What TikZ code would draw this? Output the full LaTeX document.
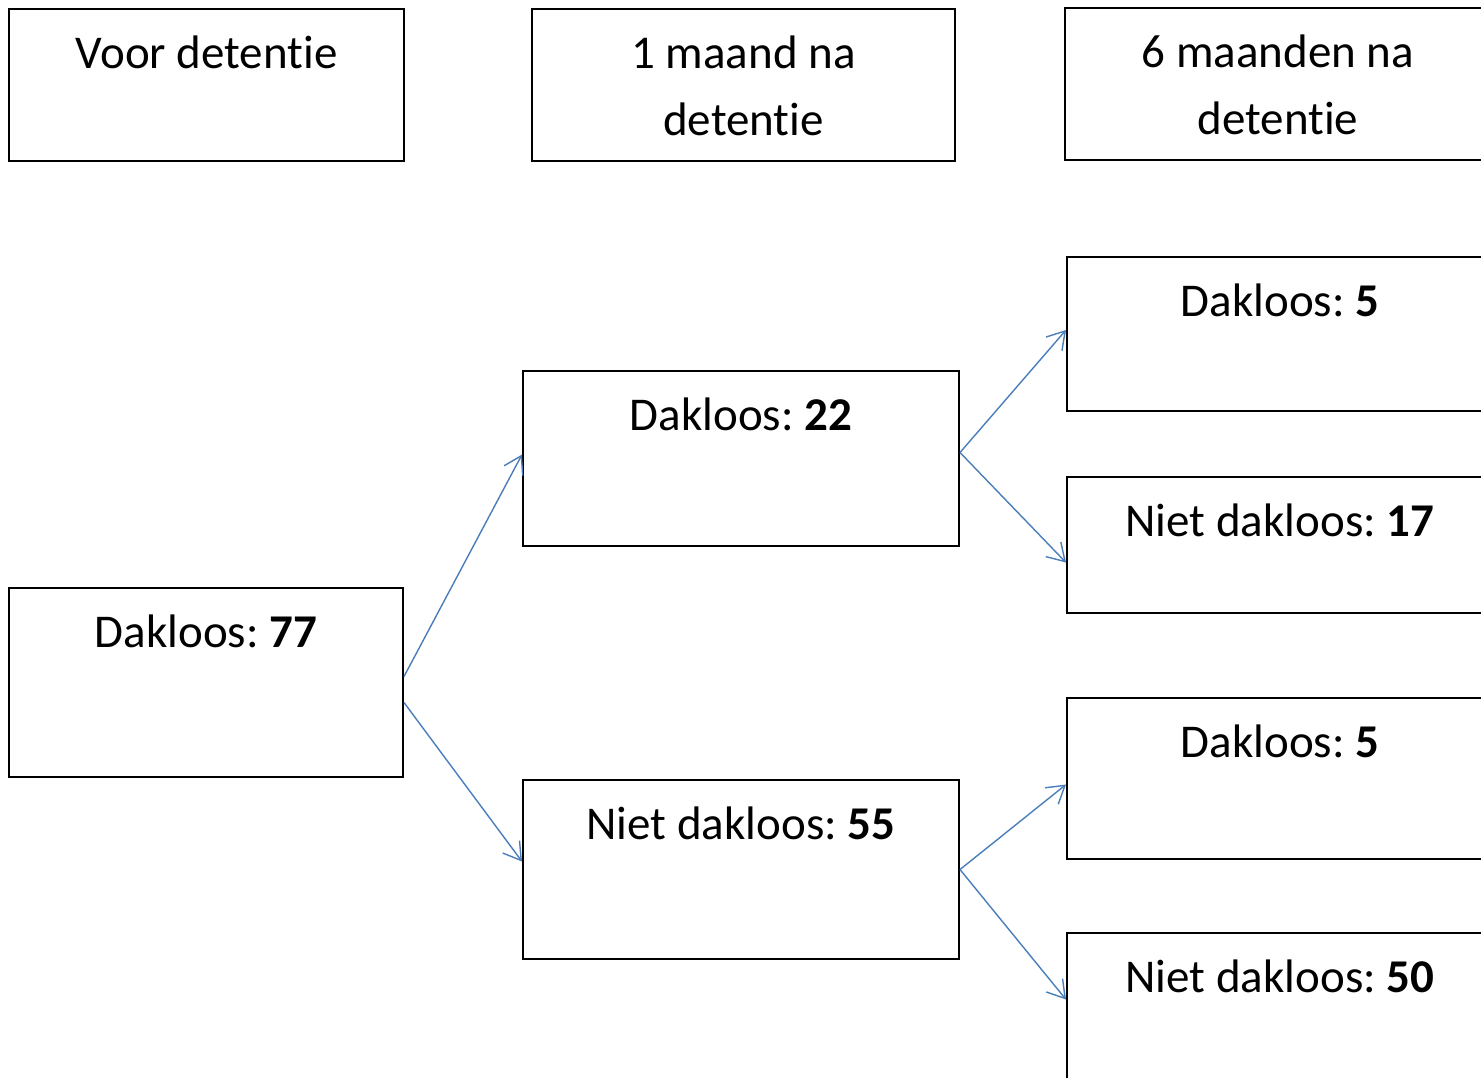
\documentclass[tikz,border=0pt]{standalone}
\usepackage{fontspec}
\setmainfont{Carlito}[Ligatures=NoCommon]
\frenchspacing
\usepackage{tikz}
\usetikzlibrary{arrows.meta,positioning,calc}
\definecolor{arrowblue}{RGB}{74,126,187}

\begin{document}
\begin{tikzpicture}[x=0.5pt, y=-0.5pt,
  box/.style={draw=black, line width=1pt, inner sep=0pt, anchor=north west,
    align=center, text height=29.5pt, font=\fontsize{23.5}{33.5}\selectfont},
  head/.style={box, text height=63pt, text depth=13pt},
  flow/.style={draw=arrowblue, line width=0.7pt, -{Straight Barb[length=8.5pt, width=10.5pt]}}]
  \useasboundingbox (0,0) rectangle (1481,1077);
  \clip (0,0) rectangle (1481,1077);

  % column headers
  \node (voor) [box, minimum width=197.5pt, text depth=46.5pt] at (8,8) {Voor detentie};
  \node (maand1) [head, minimum width=211.5pt] at (531,8) {1 maand na\\detentie};
  \node (maand6) [head, minimum width=213pt] at (1064,7) {6 maanden na\\detentie};

  \node (d77) [box, minimum width=197pt, text depth=65pt] at (8,587) {Dakloos: \textbf{77}};
  \node (d22) [box, minimum width=218pt, text depth=58pt] at (522,370) {Dakloos: \textbf{22}};
  \node (n55) [box, minimum width=218pt, text depth=60pt] at (522,779) {Niet dakloos: \textbf{55}};
  \node (d5a) [box, minimum width=213pt, text depth=47.5pt] at (1066,256) {Dakloos: \textbf{5}};
  \node (n17) [box, minimum width=213pt, text depth=38.5pt] at (1066,476) {Niet dakloos: \textbf{17}};
  \node (d5b) [box, minimum width=213pt, text depth=51pt] at (1066,697) {Dakloos: \textbf{5}};
  \node (n50) [box, minimum width=213pt, text depth=56pt] at (1066,932) {Niet dakloos: \textbf{50}};

  \path
  ([yshift=3pt]d77.east) edge [flow] ([yshift=2pt]d22.west)
  ([yshift=-10pt]d77.east) edge [flow] ([yshift=4pt]n55.west)
  ([yshift=3pt]d22.east) edge [flow] ([yshift=2pt]d5a.west)
  ([yshift=3pt]d22.east) edge [flow] ([yshift=-8.75pt]n17.west)
  (n55.east) edge [flow] ([yshift=-3pt]d5b.west)
  (n55.east) edge [flow] ([yshift=9.5pt]n50.west);

\end{tikzpicture}
\end{document}
